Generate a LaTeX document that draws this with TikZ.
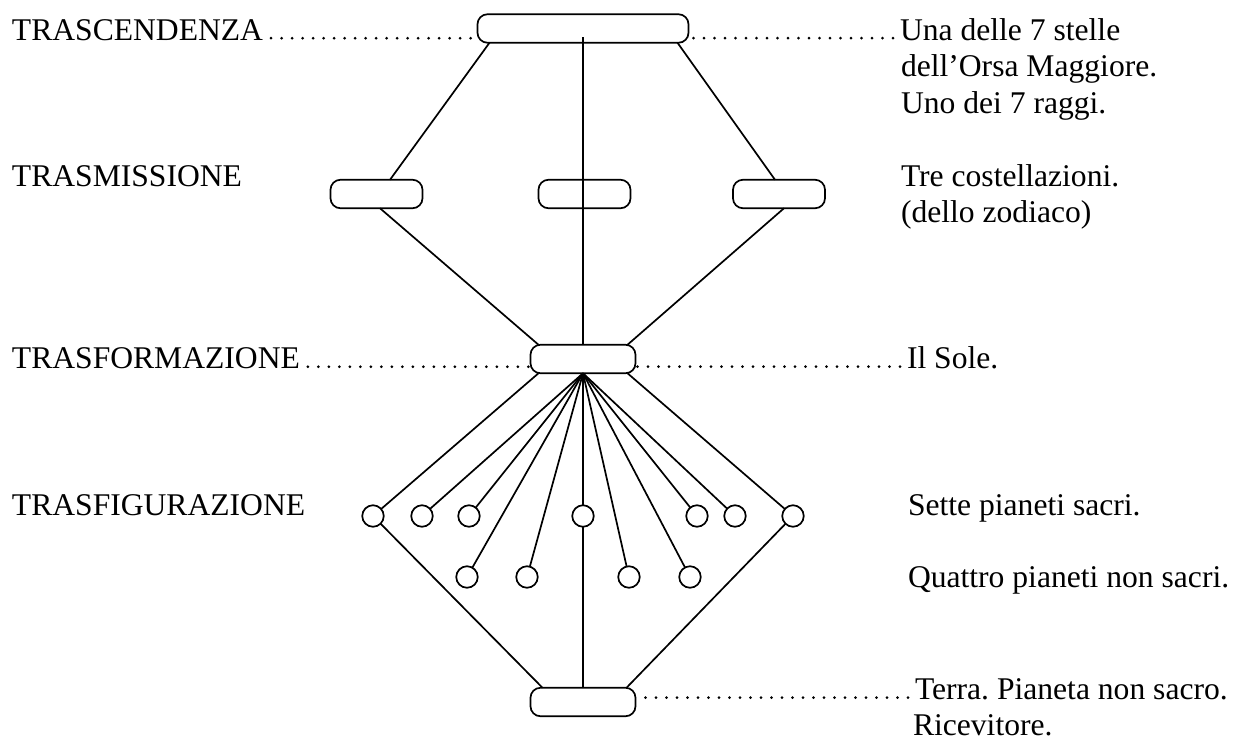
\documentclass[tikz,border=0pt]{standalone}
\usepackage{fontspec}
\setmainfont{Liberation Serif}
\usetikzlibrary{calc}
\begin{document}
\begin{tikzpicture}[x=1pt,y=-1pt,
  every node/.style={inner sep=0pt, outer sep=0pt},
  lbl/.style={anchor=base west, font=\fontsize{31.6}{36}\selectfont\frenchspacing},
  pill/.style={draw, line width=1.7pt, rounded corners=10pt, minimum height=28.5pt},
  planet/.style={draw, circle, line width=1.7pt, minimum size=21.5pt},
  link/.style={line width=1.7pt},
  dotline/.style={line width=3pt, line cap=round, dash pattern=on 0pt off 10.5pt}]
\useasboundingbox (0,0) rectangle (1234,740);
% left labels
\node[lbl] (l1) at (12,40) {TRASCENDENZA};
\node[lbl] (l2) at (12,186) {TRASMISSIONE};
\node[lbl] (l3) at (12,368.5) {TRASFORMAZIONE};
\node[lbl] (l4) at (12,515) {TRASFIGURAZIONE};
% right labels
\node[lbl] (r1) at (900,40) {Una delle 7 stelle};
\node[lbl] (r2) at (901,76.5) {dell’Orsa Maggiore.};
\node[lbl] (r3) at (901,113) {Uno dei 7 raggi.};
\node[lbl] (r4) at (901,186) {Tre costellazioni.};
\node[lbl] (r5) at (901,222.5) {(dello zodiaco)};
\node[lbl] (r6) at (907,368.5) {Il Sole.};
\node[lbl] (r7) at (908,515) {Sette pianeti sacri.};
\node[lbl] (r8) at (908,587) {Quattro pianeti non sacri.};
\node[lbl] (r9) at (915,699.5) {Terra. Pianeta non sacro.};
\node[lbl] (r10) at (913,735.5) {Ricevitore.};
% boxes
\node[pill, minimum width=211pt] (top) at (583,28.5) {};
\node[pill, minimum width=92pt] (mb1) at (376.5,194) {};
\node[pill, minimum width=92pt] (mb2) at (584.5,194) {};
\node[pill, minimum width=92pt] (mb3) at (779,194) {};
\node[pill, minimum width=105pt] (sun) at (583,359) {};
\node[pill, minimum width=105pt] (earth) at (583,702) {};
% planets
\foreach \n/\x in {1/373,2/422,3/469,4/583,5/697,6/735,7/793}
  \node[planet] (p\n) at (\x,516) {};
\foreach \n/\x in {1/467,2/527,3/629,4/690}
  \node[planet] (q\n) at (\x,577) {};
% connectors
\draw[link] ([xshift=12pt]top.south west) -- ([xshift=13.5pt]mb1.north);
\draw[link] ([xshift=-11pt]top.south east) -- ([xshift=-4pt]mb3.north);
\draw[link] ([yshift=-8.5pt]top.center) -- (sun.north);
\draw[link] ([xshift=3.5pt]mb1.south) -- ([xshift=8pt]sun.north west);
\draw[link] ([xshift=5pt]mb3.south) -- ([xshift=-8pt]sun.north east);
\draw[link] ([xshift=8pt]sun.south west) -- (p1);
\draw[link] ([xshift=-8pt]sun.south east) -- (p7);
\foreach \t in {p2,p3,p4,p5,p6,q1,q2,q3,q4}
  \draw[link] (sun.south) -- (\t);
\draw[link] (p1) -- ([xshift=12pt]earth.north west);
\draw[link] (p7) -- ([xshift=-9pt]earth.north east);
\draw[link] (p4) -- (earth.north);
% dotted leaders
\coordinate (a1) at ([xshift=8pt,yshift=1.8pt]l1.base east);
\draw[dotline] (a1) -- (a1 -| top.west);
\coordinate (b1) at ([xshift=-7pt,yshift=1.8pt]r1.base west);
\draw[dotline] (b1) -- (b1 -| top.east);
\coordinate (a3) at ([xshift=8pt,yshift=1.8pt]l3.base east);
\draw[dotline] (a3) -- (a3 -| sun.west);
\coordinate (b3) at ([xshift=-7pt,yshift=1.8pt]r6.base west);
\draw[dotline] (b3) -- (b3 -| sun.east);
\coordinate (b9) at ([xshift=-7pt,yshift=1.8pt]r9.base west);
\draw[dotline] (b9) -- (b9 -| earth.east);
\end{tikzpicture}
\end{document}
